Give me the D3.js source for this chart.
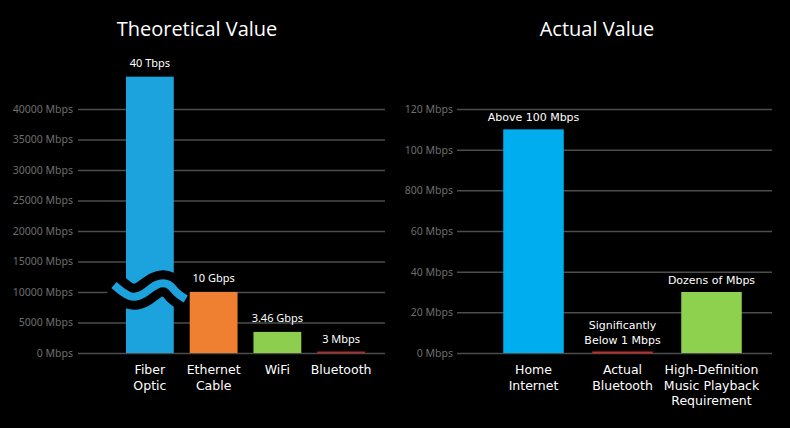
<!DOCTYPE html>
<html>
<head>
<meta charset="utf-8">
<script src="https://cdn.jsdelivr.net/npm/d3@7"></script>
<style>
  body { margin: 0; background: #000; }
  text { font-family: "Noto Sans", sans-serif; }
</style>
</head>
<body>
<script>
// left chart data
var theoCats = ["Fiber Optic", "Ethernet Cable", "WiFi", "Bluetooth"];
var theoValues = [45300, 10000, 3460, 3];   // fiber shown with axis break
var theoLabels = ["40 Tbps", "10 Gbps", "3.46 Gbps", "3 Mbps"];
var theoColors = ["#1ca3dd", "#ef8031", "#8ece4e", "#c3241c"];
var theoTicks = [0, 5000, 10000, 15000, 20000, 25000, 30000, 35000, 40000];

// right chart data
var actCats = ["Home Internet", "Actual Bluetooth", "High-Definition Music Playback Requirement"];
var actValues = [110, 0.5, 30];
var actLabels = ["Above 100 Mbps", "Significantly|Below 1 Mbps", "Dozens of Mbps"];
var actColors = ["#00aeef", "#e0201b", "#8ed14f"];
var actTicks = [0, 20, 40, 60, 80, 100, 120];
var actTickLabels = ["0 Mbps", "20 Mbps", "40 Mbps", "60 Mbps", "800 Mbps", "100 Mbps", "120 Mbps"];

var catLines = {
  "Fiber Optic": ["Fiber", "Optic"],
  "Ethernet Cable": ["Ethernet", "Cable"],
  "WiFi": ["WiFi"],
  "Bluetooth": ["Bluetooth"],
  "Home Internet": ["Home", "Internet"],
  "Actual Bluetooth": ["Actual", "Bluetooth"],
  "High-Definition Music Playback Requirement": ["High-Definition", "Music Playback", "Requirement"]
};

var svg = d3.select("body").append("svg")
    .attr("width", 790).attr("height", 428)
    .style("background", "#000");

var gridColor = "#4d4d4d";
var tickColor = "#6e6e6e";
var geoFont = "'Open Sans', 'Noto Sans', sans-serif";
var labFont = "'DejaVu Sans', sans-serif";

// multi-line label, one text per line
function lines(g, arr, cx, y0, dy, size) {
  arr.forEach(function(l, j) {
    g.append("text").attr("text-anchor", "middle").attr("fill", "#fff")
      .style("font-family", labFont).style("font-size", size)
      .attr("x", cx).attr("y", y0 + j * dy).text(l);
  });
}

// ---------- left: theoretical ----------
var x1 = d3.scaleBand().domain(theoCats).range([118, 373]).paddingInner(0.25).paddingOuter(0.125);
var y1 = d3.scaleLinear().domain([0, 40000]).range([353, 109]);

var ax1 = svg.append("g").attr("transform", "translate(78,0)")
    .call(d3.axisLeft(y1).tickValues(theoTicks).tickSize(-307)
      .tickFormat(function(d) { return d + " Mbps"; }));
ax1.select(".domain").remove();
ax1.selectAll("line").attr("stroke", gridColor).attr("stroke-width", 1.5);
ax1.selectAll("text").attr("fill", tickColor).attr("x", -5)
    .style("font-family", "'Noto Sans', sans-serif").style("font-size", "10.5px");

svg.append("g").selectAll("rect").data(theoValues).enter().append("rect")
    .attr("x", function(d, i) { return x1(theoCats[i]); })
    .attr("width", x1.bandwidth())
    .attr("y", function(d) { return Math.min(y1(d), y1(0) - 1.5); })
    .attr("height", function(d) { return Math.max(y1(0) - y1(d), 1.5); })
    .attr("fill", function(d, i) { return theoColors[i]; });

// axis break on fiber bar
var bx = x1(theoCats[0]), bw = x1.bandwidth();
var by = y1(10000) - 3;
var wave = d3.line().curve(d3.curveBasis);
var wavePts = [[bx - 12, by - 4], [bx + 4, by + 10], [bx + 18, by + 6], [bx + 30, by - 6], [bx + 44, by - 6], [bx + bw + 2, by + 4], [bx + bw + 12, by + 10]];
svg.append("path").attr("d", wave(wavePts)).attr("fill", "none")
    .attr("stroke", "#000").attr("stroke-width", 26);
svg.append("path").attr("d", wave(wavePts)).attr("fill", "none")
    .attr("stroke", theoColors[0]).attr("stroke-width", 8);

svg.append("g").selectAll("text").data(theoLabels).enter().append("text")
    .attr("x", function(d, i) { return x1(theoCats[i]) + x1.bandwidth() / 2; })
    .attr("y", function(d, i) { return Math.min(y1(theoValues[i]), y1(0)) - 10; })
    .attr("text-anchor", "middle").attr("fill", "#fff")
    .style("font-size", "11px").text(function(d) { return d; });

var cl1 = svg.append("g");
theoCats.forEach(function(c) {
  lines(cl1, catLines[c], x1(c) + x1.bandwidth() / 2, 374, 15.5, "12.5px");
});

svg.append("text").attr("x", 197).attr("y", 36).attr("text-anchor", "middle")
    .attr("fill", "#fff").style("font-family", geoFont).style("font-size", "20px")
    .text("Theoretical Value");

// ---------- right: actual ----------
var x2 = d3.scaleBand().domain(actCats).range([489, 756]).paddingInner(0.32).paddingOuter(0.16);
var y2 = d3.scaleLinear().domain([0, 120]).range([353, 109]);

var ax2 = svg.append("g").attr("transform", "translate(457,0)")
    .call(d3.axisLeft(y2).tickValues(actTicks).tickSize(-315)
      .tickFormat(function(d, i) { return actTickLabels[i]; }));
ax2.select(".domain").remove();
ax2.selectAll("line").attr("stroke", gridColor).attr("stroke-width", 1.5);
ax2.selectAll("text").attr("fill", tickColor).attr("x", -4)
    .style("font-family", "'Noto Sans', sans-serif").style("font-size", "10.5px");

svg.append("g").selectAll("rect").data(actValues).enter().append("rect")
    .attr("x", function(d, i) { return x2(actCats[i]); })
    .attr("width", x2.bandwidth())
    .attr("y", function(d) { return Math.min(y2(d), y2(0) - 1.5); })
    .attr("height", function(d) { return Math.max(y2(0) - y2(d), 1.5); })
    .attr("fill", function(d, i) { return actColors[i]; });

var vl2 = svg.append("g");
actLabels.forEach(function(lab, i) {
  var ls = lab.split("|");
  var cx = x2(actCats[i]) + x2.bandwidth() / 2;
  lines(vl2, ls, cx, y2(actValues[i]) - 8 - (ls.length - 1) * 15, 15, "11px");
});

var cl2 = svg.append("g");
actCats.forEach(function(c) {
  lines(cl2, catLines[c], x2(c) + x2.bandwidth() / 2, 374, 15.5, "12.5px");
});

svg.append("text").attr("x", 597).attr("y", 36).attr("text-anchor", "middle")
    .attr("fill", "#fff").style("font-family", geoFont).style("font-size", "20px")
    .text("Actual Value");
</script>
</body>
</html>
